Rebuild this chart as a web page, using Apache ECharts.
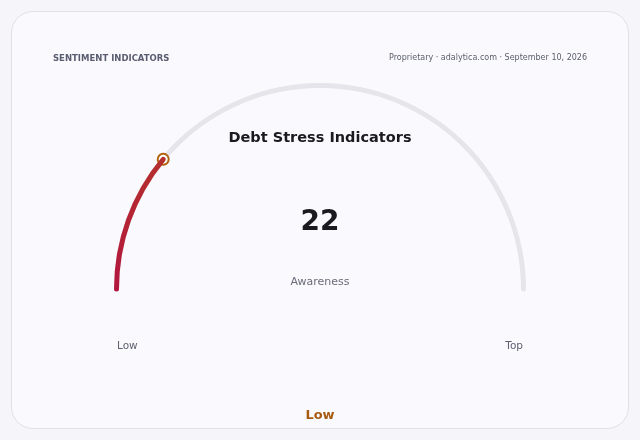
<!DOCTYPE html>
<html>
<head>
<meta charset="utf-8">
<script src="https://cdn.jsdelivr.net/npm/echarts@6/dist/echarts.min.js"></script>
<style>
  html, body { margin: 0; padding: 0; background: #f5f5fa; }
  #card {
    position: absolute; left: 11px; top: 11px; width: 616px; height: 416px;
    border: 1px solid #e0e0ea; border-radius: 22px; background: #fafafe;
  }
  #main { position: absolute; left: 0; top: 0; width: 640px; height: 440px; }
</style>
</head>
<body>
<div id="card"></div>
<div id="main"></div>
<script>
var gaugeNames = ['Awareness'];
var gaugeValues = [22];
var scaleMin = 0;
var scaleMax = 100;
var endLabels = ['Low', 'Top'];
var bandLabel = 'Low';

var myChart = echarts.init(document.getElementById('main'));
var font = 'DejaVu Sans, sans-serif';

myChart.setOption({
  backgroundColor: 'transparent',
  title: {
    text: 'Debt Stress Indicators',
    left: 'center',
    top: 126,
    textStyle: { color: '#1a1a1f', fontSize: 14.5, fontWeight: 'bold', fontFamily: font }
  },
  graphic: [
    { type: 'text', left: 53, top: 54,
      style: { text: 'SENTIMENT INDICATORS', fill: '#5a5d70', font: 'bold 8.5px ' + font } },
    { type: 'text', right: 53, top: 54,
      style: { text: 'Proprietary · adalytica.com · September 10, 2026', fill: '#5a5d6a', font: '8px ' + font } },
    { type: 'text', left: 117, top: 341,
      style: { text: endLabels[0], fill: '#5f6070', font: '10.5px ' + font } },
    { type: 'text', right: 117, top: 341,
      style: { text: endLabels[1], fill: '#5f6070', font: '10.5px ' + font } },
    { type: 'text', left: 'center', top: 409,
      style: { text: bandLabel, fill: '#a65a12', font: 'bold 13px ' + font } }
  ],
  series: [{
    type: 'gauge',
    center: [320, 289],
    radius: 206,
    startAngle: 180,
    endAngle: 0,
    min: scaleMin,
    max: scaleMax,
    axisLine: {
      roundCap: true,
      lineStyle: { width: 5, color: [[1, '#e5e5eb']] }
    },
    progress: {
      show: true,
      width: 5,
      roundCap: true,
      itemStyle: {
        color: new echarts.graphic.LinearGradient(0, 1, 0, 0, [
          { offset: 0, color: '#b3163f' },
          { offset: 1, color: '#b5302c' }
        ])
      }
    },
    pointer: {
      show: true,
      icon: 'circle',
      length: 11,
      width: 11,
      offsetCenter: [0, -198],
      itemStyle: { color: '#ffffff', borderColor: '#b3620f', borderWidth: 2 }
    },
    anchor: { show: false },
    axisTick: { show: false },
    splitLine: { show: false },
    axisLabel: { show: false },
    title: {
      offsetCenter: [0, -7],
      color: '#6a6b78',
      fontSize: 11,
      fontFamily: font
    },
    detail: {
      offsetCenter: [0, -66],
      color: '#1a1a1f',
      fontSize: 28,
      fontWeight: 'bold',
      fontFamily: font,
      formatter: '{value}'
    },
    data: gaugeNames.map(function (n, i) { return { name: n, value: gaugeValues[i] }; })
  }]
});
</script>
</body>
</html>
